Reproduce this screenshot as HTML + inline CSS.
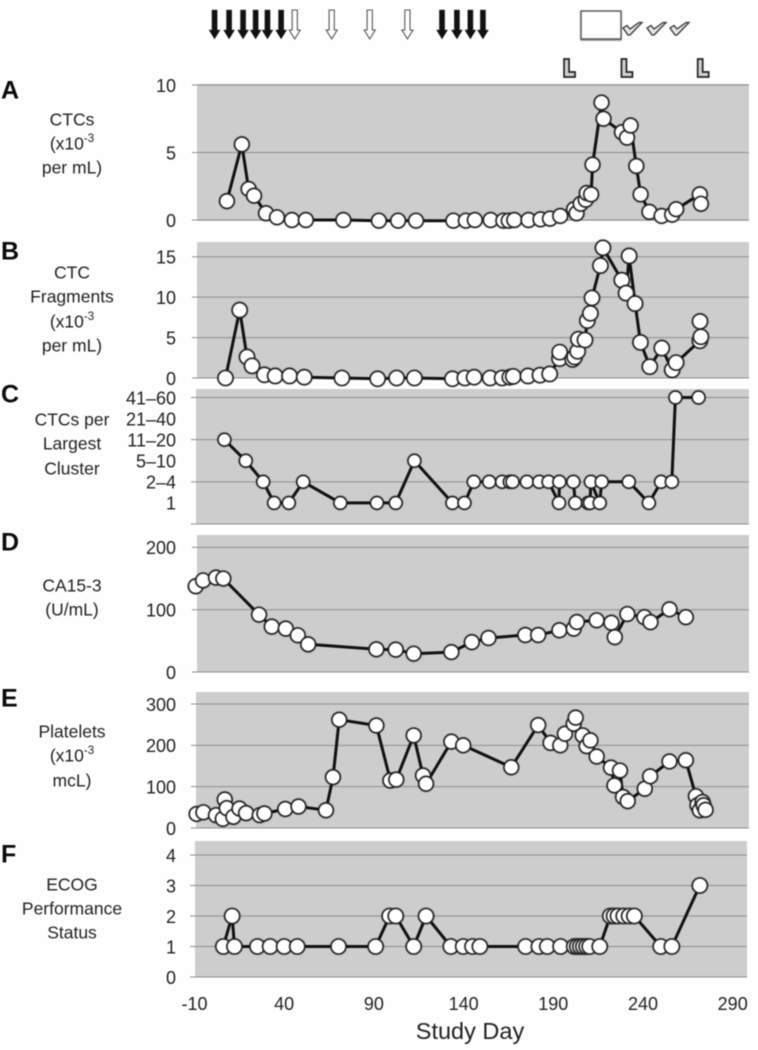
<!DOCTYPE html>
<html lang="en">
<head>
<meta charset="utf-8">
<title>Study day time-course panels</title>
<style>
html,body{margin:0;padding:0;background:#fff;}
#figure{display:block;width:758px;height:1050px;filter:blur(.45px);}
text{font-family:"Liberation Sans","DejaVu Sans",sans-serif;fill:#222;}
.cap{font-size:17.5px;text-anchor:middle;dominant-baseline:middle;}
.letter{font-size:25px;font-weight:bold;fill:#0a0a0a;dominant-baseline:middle;}
.tick{font-size:18px;text-anchor:end;dominant-baseline:middle;}
.xtick{font-size:18px;text-anchor:middle;dominant-baseline:middle;}
</style>
</head>
<body>
<svg id="figure" xmlns="http://www.w3.org/2000/svg" width="758" height="1050" viewBox="0 0 758 1050">
  <rect width="758" height="1050" fill="#fefefe"/>
  <g id="panels"></g>
  <g id="annotations"></g>

  <text class="letter" x="1" y="92">A</text>
  <text class="letter" x="1" y="253">B</text>
  <text class="letter" x="1" y="396">C</text>
  <text class="letter" x="1" y="544">D</text>
  <text class="letter" x="1" y="700">E</text>
  <text class="letter" x="1" y="856">F</text>

  <g>
    <text class="cap" x="72" y="121">CTCs</text>
    <text class="cap" x="72" y="145">(x10<tspan dy="-6" font-size="11.5">-3</tspan></text>
    <text class="cap" x="72" y="169">per mL)</text>
  </g>
  <g>
    <text class="cap" x="72" y="274">CTC</text>
    <text class="cap" x="72" y="298">Fragments</text>
    <text class="cap" x="72" y="323">(x10<tspan dy="-6" font-size="11.5">-3</tspan></text>
    <text class="cap" x="72" y="347">per mL)</text>
  </g>
  <g>
    <text class="cap" x="72" y="421">CTCs per</text>
    <text class="cap" x="72" y="445">Largest</text>
    <text class="cap" x="72" y="470">Cluster</text>
  </g>
  <g>
    <text class="cap" x="72" y="587">CA15-3</text>
    <text class="cap" x="72" y="611">(U/mL)</text>
  </g>
  <g>
    <text class="cap" x="72" y="733">Platelets</text>
    <text class="cap" x="72" y="757">(x10<tspan dy="-6" font-size="11.5">-3</tspan></text>
    <text class="cap" x="72" y="782">mcL)</text>
  </g>
  <g>
    <text class="cap" x="72" y="886">ECOG</text>
    <text class="cap" x="72" y="910">Performance</text>
    <text class="cap" x="72" y="934">Status</text>
  </g>

  <g id="x-axis"></g>
  <text x="470" y="1033" font-size="23.5" text-anchor="middle" dominant-baseline="middle">Study Day</text>
</svg>

<script>
// ---- data ----
const xTickValues = [-10, 40, 90, 140, 190, 240, 290];

const filledArrowDays = [0.9, 9, 16.8, 23.8, 30.4, 38, 127.7, 136, 143.5, 150.5];
const openArrowDays = [45.6, 66.2, 87.4, 108.4];
const checkDays = [233.6, 247, 259.8];
const lMarkerDays = [198.5, 230.5, 273];

const ctcDays = [7.8,16.1,19.9,22.9,29.6,35.7,44,51.8,72.7,92.5,103.2,113.2,134,141,146,154.8,161.9,164.9,168,175.9,182.6,187.9,193.6,201.3,202.7,205,207.8,208.4,210.8,211.6,216.6,217.7,228,230.8,232.8,236,238.4,243.3,250.1,256,258.2,271.4,272];
const ctcValues = [1.4,5.6,2.3,1.8,0.5,0.2,0,0,0,-0.05,-0.05,-0.05,-0.05,-0.05,0,0,-0.05,-0.05,0,0,0.05,0.1,0.3,0.8,0.5,1.2,1.5,2.0,1.9,4.1,8.7,7.5,6.5,6.1,7.0,4.0,1.9,0.6,0.3,0.4,0.8,1.9,1.2];
const ctcTicks = [0, 5, 10];

const fragmentDays = [7,14.9,19,21.8,28.7,34.7,42.7,50.9,71.9,91.8,102.4,112.3,133.5,140.4,145.6,154.5,161.2,165.5,167.4,175.6,182.3,187.7,193.2,193.3,200.5,201.6,203.3,203.7,207.4,208.7,210.4,211.3,216,217.4,227.9,230.3,232,235.3,238.3,243.5,250.2,256,258.2,271.4,272,271.5];
const fragmentValues = [0,8.4,2.6,1.5,0.4,0.25,0.25,0.1,0,-0.1,0,0,-0.1,0,0.1,0,0,0.1,0.2,0.25,0.35,0.5,2.4,3.2,2.3,2.6,3.3,4.8,4.7,7.1,8.0,9.9,13.9,16.1,12.1,10.5,15.1,9.2,4.4,1.4,3.7,1.0,1.9,4.6,5.1,7.0];
const fragmentTicks = [0, 5, 10, 15];

const clusterDays = [6.4,18.3,28,34.1,42.3,50.3,71,91.4,101.9,112.3,133.5,140.2,145.4,154,161.2,165.5,167,175,181.9,187.1,192.9,193.1,200.9,202,209.1,210.2,210.7,215.6,216.7,231.8,243,249.8,255.8,257.8,270.7];
const clusterLevels = [4,3,2,1,1,2,1,1,1,3,1,1,2,2,2,2,2,2,2,2,1,2,2,1,1,1,2,1,2,2,1,2,2,6,6];
const clusterTickLabels = ["1", "2–4", "5–10", "11–20", "21–40", "41–60"];
const clusterGridLevels = [0, 2, 4, 6];

const ca153Days = [-9.6,-5.5,1.7,5.8,25.7,32.8,40.6,47.3,53.1,91.1,101.9,111.9,132.9,144.3,153.6,174.1,181.3,193.1,201.1,202.9,213.9,222.1,224,231,240.5,243.9,254.5,263.6];
const ca153Values = [137.6,147,151.5,150,92,72.8,69.6,58.9,44.4,36.4,35.9,29.4,32,48,54.6,59.4,59.4,67,69.6,80.3,83,79,56,93,88,80,100.6,88];
const ca153Ticks = [0, 100, 200];

const plateletDays = [-9.1,-5.3,1.7,5.5,6.6,7.7,11.4,14.8,18.5,26.1,28.7,40.3,47.7,63,66.9,70.4,91.1,98.9,102.2,111.9,117.1,118.8,132.9,139.5,166.3,181.3,188.2,193.6,196.2,201.1,202.2,206.1,208.3,210.4,213.9,221.9,223.8,226.9,228.6,231.2,240.7,243.7,254.5,263.6,269.2,270.1,271.4,272.9,273.5,274.6];
const plateletValues = [34,38,31,22,69,48,27,47,36,31,35,46,52,43,123,262,248,115,117,224,127,107,209,200,147,249,206,200,228,252,267,224,198,212,173,146,103,139,75,65,95,125,161,164,77,55,43,63,55,44];
const plateletTicks = [0, 100, 200, 300];

const ecogDays = [5.8,10.7,12,24.8,31.9,39.7,47,70,90.7,98.5,101.9,111.9,118.8,132.6,139.5,144.7,148.8,174.3,181.7,186.4,193.8,201.4,203.1,204.8,206.5,208.3,210,215.6,221.5,223.6,225.8,229,232,234.9,249.6,255.8,271.4];
const ecogValues = [1,2,1,1,1,1,1,1,1,2,2,1,2,1,1,1,1,1,1,1,1,1,1,1,1,1,1,1,2,2,2,2,2,2,1,1,3];
const ecogTicks = [0, 1, 2, 3, 4];

// ---- axis functions ----
const NS = 'http://www.w3.org/2000/svg';
function xDay(d) { return 195 + (d + 10) * 1.794; }
function linear(v, vMax, yZero, yMax) { return yZero - (v / vMax) * (yZero - yMax); }
function make(tag, attrs, parent) {
  const node = document.createElementNS(NS, tag);
  for (const k in attrs) node.setAttribute(k, attrs[k]);
  parent.appendChild(node);
  return node;
}

const panelsRoot = document.getElementById('panels');

function drawPanel(cfg) {
  const g = make('g', {}, panelsRoot);
  
  
  const y = function (v) { return linear(v, cfg.vMax, cfg.yZero, cfg.yMax); };

  const bg = make('rect', { x: cfg.left, y: cfg.top, width: cfg.right - cfg.left, height: cfg.bottom - cfg.top, fill: '#cdcdcd' }, g);
  
  

  cfg.grid.forEach(function (v) {
    const yy = y(v);
    const grid = make('line', { x1: cfg.left - 5, x2: cfg.right, y1: yy, y2: yy, stroke: '#8e8e8e', 'stroke-width': 1 }, g);
    
    
  });

  cfg.labels.forEach(function (item) {
    const label = make('text', { class: 'tick', x: 176, y: y(item.v) + 2 }, g);
    label.textContent = item.t;
    
    
  });

  const pts = cfg.days.map(function (d, i) { return xDay(d).toFixed(1) + ',' + y(cfg.values[i]).toFixed(1); });
  const path = make('polyline', { points: pts.join(' '), fill: 'none', stroke: '#111111', 'stroke-width': 3, 'stroke-linejoin': 'round' }, g);
  
  

  cfg.days.forEach(function (d, i) {
    const dot = make('circle', {
      cx: xDay(d), cy: y(cfg.values[i]), r: cfg.r,
      fill: '#ffffff', stroke: '#262626', 'stroke-width': 1.6,
      style: 'filter:drop-shadow(.7px .7px .6px rgba(0,0,0,.55))'
    }, g);
    
    
  });
}

function numericLabels(ticks) { return ticks.map(function (v) { return { v: v, t: String(v) }; }); }

drawPanel({ name: 'ctcs', days: ctcDays, values: ctcValues, vMax: 10, yZero: 220, yMax: 85, left: 197, right: 749, top: 84, bottom: 221, grid: ctcTicks, labels: numericLabels(ctcTicks), r: 7.3 });
drawPanel({ name: 'ctc-fragments', days: fragmentDays, values: fragmentValues, vMax: 15, yZero: 378, yMax: 256.7, left: 197, right: 749, top: 242, bottom: 378, grid: fragmentTicks, labels: numericLabels(fragmentTicks), r: 7.5 });
drawPanel({ name: 'cluster-size', days: clusterDays, values: clusterLevels, vMax: 6, yZero: 524, yMax: 397.5, left: 196, right: 749, top: 389, bottom: 524, grid: clusterGridLevels, labels: clusterTickLabels.map(function (t, i) { return { v: i + 1, t: t }; }), r: 6.4 });
drawPanel({ name: 'ca15-3', days: ca153Days, values: ca153Values, vMax: 200, yZero: 672, yMax: 547.4, left: 197, right: 749, top: 535, bottom: 672, grid: ca153Ticks, labels: numericLabels(ca153Ticks), r: 7.3 });
drawPanel({ name: 'platelets', days: plateletDays, values: plateletValues, vMax: 300, yZero: 828, yMax: 704, left: 196, right: 749, top: 692, bottom: 828, grid: plateletTicks, labels: numericLabels(plateletTicks), r: 7.3 });
drawPanel({ name: 'ecog', days: ecogDays, values: ecogValues, vMax: 4, yZero: 977, yMax: 855, left: 195, right: 747, top: 841, bottom: 977, grid: ecogTicks, labels: numericLabels(ecogTicks), r: 7.5 });

// ---- x axis ----
const xAxisRoot = document.getElementById('x-axis');
xTickValues.forEach(function (v) {
  const label = make('text', { class: 'xtick', x: xDay(v) - 0.5, y: 1005 }, xAxisRoot);
  label.textContent = String(v);
  
  
});

// ---- treatment annotations ----
const ann = document.getElementById('annotations');
function arrowPoints(cx) {
  return [[cx - 2.6, 10], [cx + 2.6, 10], [cx + 2.6, 30], [cx + 5.5, 30], [cx, 39], [cx - 5.5, 30], [cx - 2.6, 30]]
    .map(function (p) { return p.join(','); }).join(' ');
}
filledArrowDays.forEach(function (d) {
  const arrow = make('polygon', { points: arrowPoints(xDay(d)), fill: '#111111', stroke: '#333', 'stroke-width': 0.5 }, ann);
  
  
});
openArrowDays.forEach(function (d) {
  const arrow = make('polygon', { points: arrowPoints(xDay(d)), fill: '#ffffff', stroke: '#555', 'stroke-width': 1.1 }, ann);
  
  
});

const box = make('rect', { x: 581, y: 11, width: 40, height: 28, fill: '#ffffff', stroke: '#555', 'stroke-width': 1.4, style: 'filter:drop-shadow(.6px 1px .6px rgba(0,0,0,.5))' }, ann);



checkDays.forEach(function (d) {
  const cx = xDay(d);
  const pts = [[cx - 9, 28], [cx - 5, 25.5], [cx - 2, 29], [cx + 7, 22.5], [cx + 10, 22.5], [cx - 2, 35], [cx - 4, 35]]
    .map(function (p) { return p.join(','); }).join(' ');
  const check = make('polygon', { points: pts, fill: '#e6e6e6', stroke: '#333', 'stroke-width': 1.3 }, ann);
  
  
});

lMarkerDays.forEach(function (d) {
  const cx = xDay(d);
  const pts = [[cx - 5, 59], [cx, 59], [cx, 72], [cx + 6, 72], [cx + 6, 77], [cx - 5, 77]]
    .map(function (p) { return p.join(','); }).join(' ');
  const mark = make('polygon', { points: pts, fill: '#d0d0d0', stroke: '#222', 'stroke-width': 1.7 }, ann);
  
  
});
</script>
</body>
</html>
